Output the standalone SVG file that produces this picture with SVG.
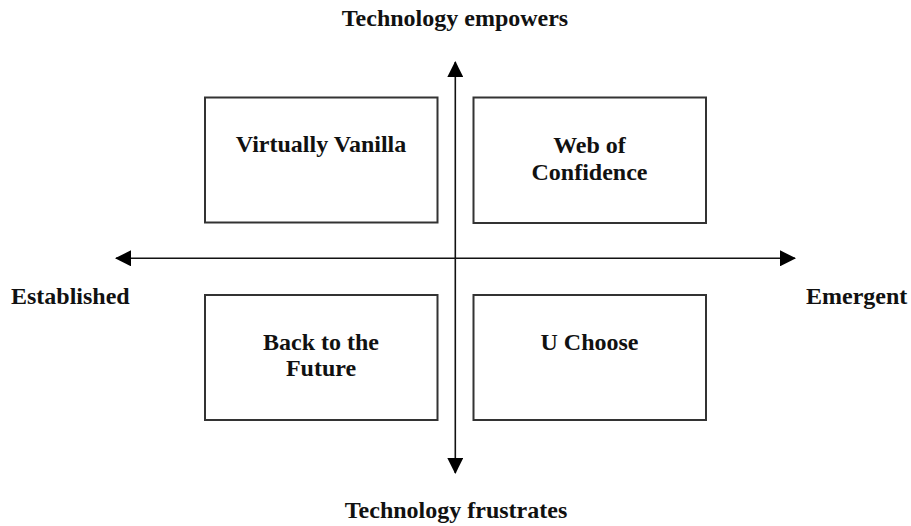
<svg xmlns="http://www.w3.org/2000/svg" width="911" height="526" viewBox="0 0 911 526">
  <style>
    .box { fill: #ffffff; stroke: #333333; stroke-width: 2; }
    .axis { stroke: #111111; stroke-width: 1.6; fill: none; }
    .lbl { font-family: "Liberation Serif", "Times New Roman", serif; font-weight: bold; font-size: 24px; fill: #111111; }
    .mid { text-anchor: middle; }
  </style>
  <defs>
    <marker id="arrow" viewBox="0 0 16 16" refX="15" refY="8" markerWidth="16" markerHeight="16" markerUnits="userSpaceOnUse" orient="auto">
      <path d="M0,0 L16,8 L0,16 Z" fill="#000000"/>
    </marker>
  </defs>
  <rect width="911" height="526" fill="#ffffff"/>

  <!-- axes -->
  <g id="connectors">
    <line class="axis" x1="455.3" y1="258.3" x2="455.3" y2="62" marker-end="url(#arrow)"/>
    <line class="axis" x1="455.3" y1="258.3" x2="455.3" y2="473" marker-end="url(#arrow)"/>
    <line class="axis" x1="455.3" y1="258.3" x2="116" y2="258.3" marker-end="url(#arrow)"/>
    <line class="axis" x1="455.3" y1="258.3" x2="795" y2="258.3" marker-end="url(#arrow)"/>
  </g>

  <!-- axis labels -->
  <g id="label-top"><text class="lbl mid" x="455" y="26">Technology empowers</text></g>
  <g id="label-bottom"><text class="lbl mid" x="456" y="518">Technology frustrates</text></g>
  <g id="label-left"><text class="lbl" x="11" y="304">Established</text></g>
  <g id="label-right"><text class="lbl" x="806" y="304">Emergent</text></g>

  <!-- quadrants -->
  <g id="virtually-vanilla">
    <rect class="box" x="205" y="97.5" width="232.5" height="125"/>
    <text class="lbl mid" x="321" y="152">Virtually Vanilla</text>
  </g>
  <g id="web-of-confidence">
    <rect class="box" x="473.5" y="97.5" width="232.5" height="125.5"/>
    <text class="lbl mid" x="589.5" y="153">Web of</text>
    <text class="lbl mid" x="589.5" y="180">Confidence</text>
  </g>
  <g id="back-to-the-future">
    <rect class="box" x="205" y="295" width="232.5" height="125"/>
    <text class="lbl mid" x="321" y="350">Back to the</text>
    <text class="lbl mid" x="321" y="376">Future</text>
  </g>
  <g id="u-choose">
    <rect class="box" x="473.5" y="295" width="232.5" height="125"/>
    <text class="lbl mid" x="589.5" y="350">U Choose</text>
  </g>
</svg>
